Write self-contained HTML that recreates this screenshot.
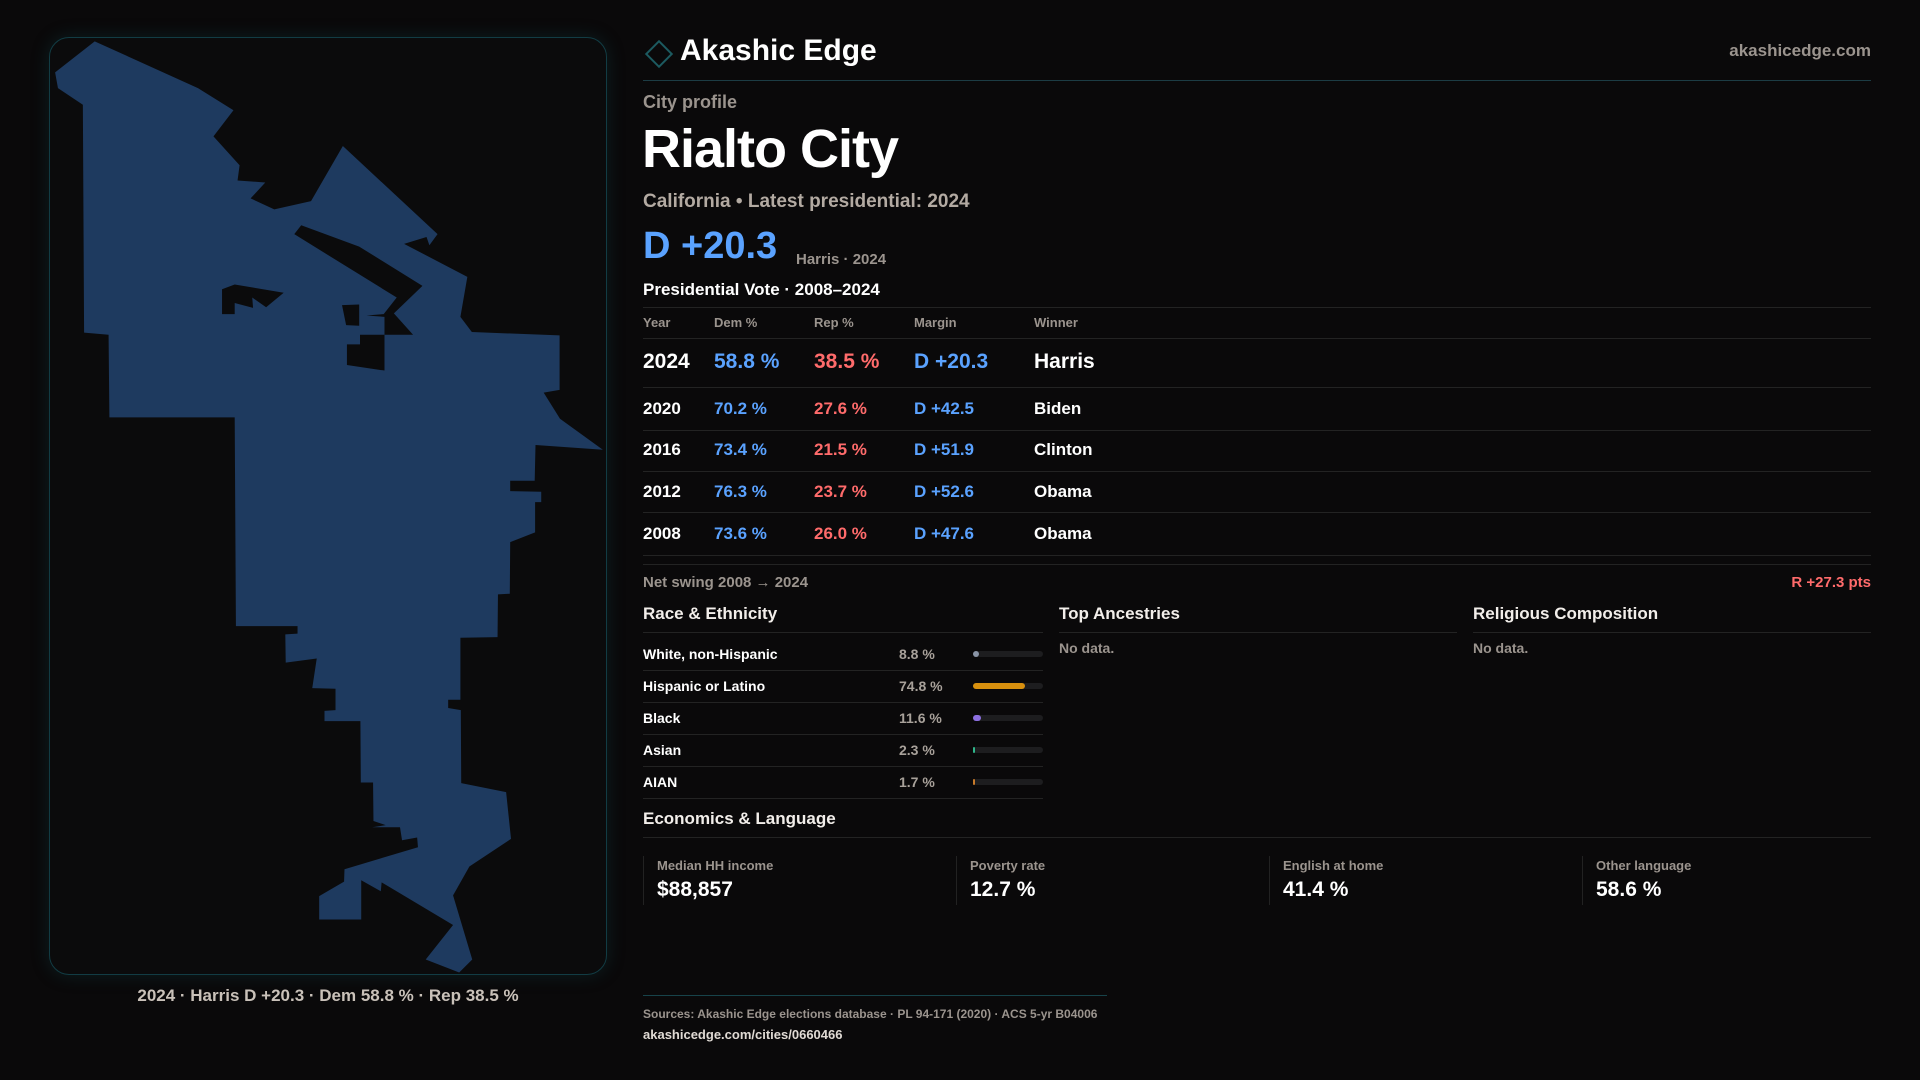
<!DOCTYPE html>
<html><head><meta charset="utf-8"><style>
*{margin:0;padding:0;box-sizing:border-box}
body{width:1920px;height:1080px;background:#0a090a;font-family:"Liberation Sans",sans-serif;position:relative;overflow:hidden;color:#f2eeea}
.a{position:absolute;white-space:nowrap}
.line{position:absolute;height:1px;background:#232323}
.g{color:#9b948e}
.b{color:#5aa2ff}.r{color:#ff6b6b}
</style></head><body>
<div class="a" style="left:49px;top:37px;width:558px;height:938px;border:1px solid #123c44;border-radius:20px;background:#0b0b0c;box-shadow:0 0 18px rgba(20,90,100,0.25)"></div>
<svg class="a" style="left:0;top:0" width="640" height="1080" viewBox="0 0 1568 1568" preserveAspectRatio="none">
<polygon fill="#1e3a5f" points="232,60 135,105 142,128 203,152 206,483 266,486 268,606 575,606 578,909 729,909 729,920 699,921 700,962 776,956 765,999 822,1000 822,1031 795,1032 795,1047 883,1047 884,1136 914,1136 915,1192 945,1198 912,1201 980,1201 985,1220 1022,1216 1024,1230 844,1262 843,1280 782,1301 782,1335 885,1335 885,1278 933,1294 935,1281 1110,1343 1043,1393 1125,1412 1157,1393 1110,1300 1150,1258 1252,1218 1240,1150 1130,1137 1129,1031 1098,1028 1098,1016 1128,1016 1128,926 1219,925 1220,863 1249,862 1250,787 1311,773 1311,729 1326,729 1326,714 1250,713 1250,698 1310,698 1312,646 1477,653 1372,608 1332,570 1371,566 1371,487 1156,482 1128,460 1145,402 990,354 1045,344 1052,356 1072,340 840,212 762,292 672,304 614,288 650,265 582,262 587,240 523,198 572,160 485,128"/>
<polygon fill="#0b0b0c" points="721,340 738,327 880,358 1035,415 965,455 1012,486 942,486 942,538 850,530 850,500 882,500 882,486 942,486 942,460 898,458 940,456 972,432"/>
<polygon fill="#0b0b0c" points="544,420 575,413 695,425 652,446 618,432 620,447 575,440 575,456 544,456"/>
<polygon fill="#0b0b0c" points="838,443 880,442 880,473 848,472"/>
</svg>
<div class="a" style="left:0;width:656px;text-align:center;top:986px;font-size:17px;font-weight:bold;color:#c9c1b9">2024 · Harris D +20.3 · Dem 58.8 % · Rep 38.5 %</div>

<div class="a" style="left:649px;top:44px;width:20px;height:20px;border:2px solid #1c5a60;transform:rotate(45deg)"></div>
<div class="a" style="left:680px;top:34px;font-size:30px;font-weight:bold;color:#fff">Akashic Edge</div>
<div class="a g" style="right:49px;top:41px;font-size:17px;font-weight:bold">akashicedge.com</div>
<div class="line" style="left:643px;width:1228px;top:80px;background:#1c3c44"></div>
<div class="a g" style="left:643px;top:92px;font-size:18px;font-weight:bold">City profile</div>
<div class="a" style="left:642px;top:118px;font-size:54px;font-weight:bold;color:#fff;letter-spacing:-1px">Rialto City</div>
<div class="a" style="left:643px;top:191px;font-size:19px;font-weight:bold;color:#b3aaa2">California • Latest presidential: 2024</div>
<div class="a b" style="left:643px;top:225px;font-size:38px;font-weight:bold">D +20.3</div>
<div class="a g" style="left:796px;top:251px;font-size:15px;font-weight:bold">Harris · 2024</div>
<div class="a" style="left:643px;top:280px;font-size:17px;font-weight:bold;color:#fff">Presidential Vote · 2008–2024</div>
<div id="tbl"></div>
<div class="line" style="left:643px;width:1228px;top:564px"></div>
<div class="a g" style="left:643px;top:574px;font-size:15px;font-weight:bold">Net swing 2008 → 2024</div>
<div class="a r" style="right:49px;top:574px;font-size:15px;font-weight:bold">R +27.3 pts</div>

<div class="a" style="left:643px;top:604px;font-size:17px;font-weight:bold">Race &amp; Ethnicity</div>
<div class="line" style="left:643px;width:400px;top:632px"></div>
<div class="a" style="left:1059px;top:604px;font-size:17px;font-weight:bold">Top Ancestries</div>
<div class="line" style="left:1059px;width:398px;top:632px"></div>
<div class="a g" style="left:1059px;top:640px;font-size:14px;font-weight:bold">No data.</div>
<div class="a" style="left:1473px;top:604px;font-size:17px;font-weight:bold">Religious Composition</div>
<div class="line" style="left:1473px;width:398px;top:632px"></div>
<div class="a g" style="left:1473px;top:640px;font-size:14px;font-weight:bold">No data.</div>
<div id="race"></div>

<div class="a" style="left:643px;top:809px;font-size:17px;font-weight:bold">Economics &amp; Language</div>
<div class="line" style="left:643px;width:1228px;top:837px"></div>
<div id="stats"></div>

<div class="line" style="left:643px;width:464px;top:995px;background:#17434a"></div>
<div class="a g" style="left:643px;top:1007px;font-size:12px;font-weight:bold">Sources: Akashic Edge elections database · PL 94-171 (2020) · ACS 5-yr B04006</div>
<div class="a" style="left:643px;top:1027px;font-size:13px;font-weight:bold;color:#e0dad4">akashicedge.com/cities/0660466</div>

<script>
const years=['2024','2020','2016','2012','2008'];
const demPct=[58.8,70.2,73.4,76.3,73.6];
const repPct=[38.5,27.6,21.5,23.7,26.0];
const margins=[20.3,42.5,51.9,52.6,47.6];
const winners=['Harris','Biden','Clinton','Obama','Obama'];
const raceLabels=['White, non-Hispanic','Hispanic or Latino','Black','Asian','AIAN'];
const raceValues=[8.8,74.8,11.6,2.3,1.7];
const raceColors=['#8a94a6','#d8900e','#8c6fe0','#2fb58a','#c77a2a'];
const statLabels=['Median HH income','Poverty rate','English at home','Other language'];
const statValues=['$88,857','12.7 %','41.4 %','58.6 %'];

function mk(parent,html,style,name,cls){const d=document.createElement('div');d.className='a '+(cls||'');d.innerHTML=html;d.style.cssText=style;


parent.appendChild(d);return d;}
function ln(parent,top,left,w,name){const d=document.createElement('div');d.className='line';d.style.cssText='top:'+top+'px;left:'+left+'px;width:'+w+'px';


parent.appendChild(d);}

const T=document.getElementById('tbl');
const cols=[643,714,814,914,1034];
['Year','Dem %','Rep %','Margin','Winner'].forEach((h,i)=>mk(T,h,'left:'+cols[i]+'px;top:315px;font-size:13px;font-weight:bold','table-header-'+h.toLowerCase().replace(/\W+/g,''),'g'));
ln(T,307,643,1228,'table-top-rule');ln(T,338,643,1228,'table-header-rule');
const rowBase=[370,415,456,498,540],rowLine=[387,430,471,512,555];
years.forEach((y,i)=>{const fs=i==0?21:17;const top=rowBase[i]-fs*0.93;const m=margins[i];
const st='top:'+top+'px;font-size:'+fs+'px;font-weight:bold;';
mk(T,y,st+'left:'+cols[0]+'px;color:#fff','row-'+y+'-year');
mk(T,demPct[i].toFixed(1)+' %',st+'left:'+cols[1]+'px','row-'+y+'-dem','b');
mk(T,repPct[i].toFixed(1)+' %',st+'left:'+cols[2]+'px','row-'+y+'-rep','r');
mk(T,(m>=0?'D +':'R +')+Math.abs(m).toFixed(1),st+'left:'+cols[3]+'px','row-'+y+'-margin',m>=0?'b':'r');
mk(T,winners[i],st+'left:'+cols[4]+'px;color:#fff','row-'+y+'-winner');
ln(T,rowLine[i],643,1228,'row-'+y+'-rule');});

const R=document.getElementById('race');
raceLabels.forEach((l,i)=>{const c=654+32*i;
mk(R,l,'left:643px;top:'+(c-8)+'px;font-size:14px;font-weight:bold;color:#fff','race-label-'+i);
mk(R,raceValues[i].toFixed(1)+' %','left:899px;top:'+(c-8)+'px;font-size:14px;font-weight:bold;color:#a8a19a','race-value-'+i);
mk(R,'','left:973px;top:'+(c-3)+'px;width:70px;height:6px;border-radius:3px;background:#1d1d1f','race-bar-track-'+i);
mk(R,'','left:973px;top:'+(c-3)+'px;width:'+Math.max(1.5,raceValues[i]/100*70)+'px;height:6px;border-radius:3px;background:'+raceColors[i],'race-bar-'+i);
ln(R,c+16,643,400,'race-row-rule-'+i);});

const S=document.getElementById('stats');
statLabels.forEach((l,i)=>{const x=643+313*i;
mk(S,'','left:'+x+'px;top:856px;width:1px;height:49px;background:#222','stat-divider-'+i);
mk(S,l,'left:'+(x+14)+'px;top:858px;font-size:13px;font-weight:bold','stat-label-'+i,'g');
mk(S,statValues[i],'left:'+(x+14)+'px;top:878px;font-size:21px;font-weight:bold;color:#fff','stat-value-'+i);});
</script>
</body></html>
